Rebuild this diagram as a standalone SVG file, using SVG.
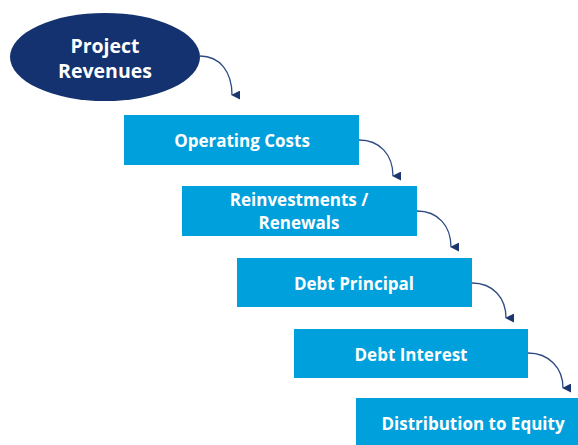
<svg xmlns="http://www.w3.org/2000/svg" width="578" height="445" viewBox="0 0 578 445">
  <defs>
    <marker id="head" viewBox="0 0 10 10" refX="5" refY="9" markerWidth="9" markerHeight="9" markerUnits="userSpaceOnUse" orient="auto-start-reverse">
      <path d="M0,0 L10,0 L5,10 Z" fill="#1e3670"/>
    </marker>
    <style>
      .step { fill: #00a0dc; }
      .start { fill: #13326f; }
      .label { fill: #ffffff; font-family: "Open Sans", "Noto Sans", sans-serif; font-weight: bold; font-size: 17px; text-anchor: middle; dominant-baseline: central; }
      .big { font-size: 19.5px; }
      .flow { fill: none; stroke: #2e4a82; stroke-width: 1.3; }
    </style>
  </defs>
  <rect width="578" height="445" fill="#ffffff"/>

  <g id="project-revenues">
    <ellipse class="start" cx="105" cy="57" rx="95" ry="44"/>
    <text class="label big" x="105" y="45">Project</text>
    <text class="label big" x="105" y="70">Revenues</text>
  </g>

  <g id="operating-costs">
    <rect class="step" x="124" y="115" width="235" height="50"/>
    <text class="label" x="242" y="140">Operating Costs</text>
  </g>

  <g id="reinvestments-renewals">
    <rect class="step" x="182" y="186" width="235" height="50"/>
    <text class="label" x="299" y="199">Reinvestments /</text>
    <text class="label" x="299" y="222">Renewals</text>
  </g>

  <g id="debt-principal">
    <rect class="step" x="237" y="258" width="235" height="49"/>
    <text class="label" x="354" y="283">Debt Principal</text>
  </g>

  <g id="debt-interest">
    <rect class="step" x="294" y="329" width="234" height="49"/>
    <text class="label" x="411" y="354">Debt Interest</text>
  </g>

  <g id="distribution-to-equity">
    <rect class="step" x="356" y="398" width="236" height="47"/>
    <text class="label" x="473" y="423">Distribution to Equity</text>
  </g>

  <g id="connectors">
    <path class="flow" marker-end="url(#head)" d="M200,56 C220,56 232,72 232,95"/>
    <path class="flow" marker-end="url(#head)" d="M359,140 C380,140 393,155 393,176"/>
    <path class="flow" marker-end="url(#head)" d="M417,211 C438,211 451,226 451,247"/>
    <path class="flow" marker-end="url(#head)" d="M472,283 C493,283 506,298 506,318"/>
    <path class="flow" marker-end="url(#head)" d="M528,353 C549,353 563,368 563,388"/>
  </g>
</svg>
